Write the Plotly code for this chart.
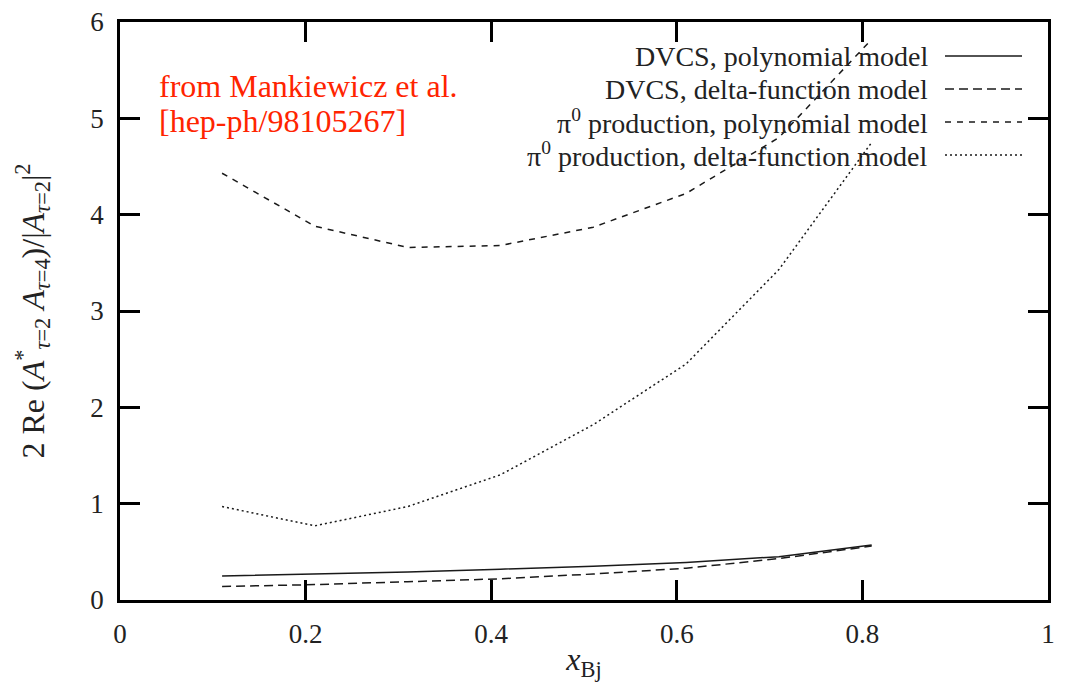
import plotly.graph_objects as go

# ---- data ----
x_bj = [0.11, 0.21, 0.31, 0.41, 0.51, 0.61, 0.71, 0.81]
dvcs_poly = [0.25, 0.27, 0.29, 0.32, 0.35, 0.39, 0.45, 0.57]
dvcs_delta = [0.14, 0.16, 0.19, 0.22, 0.27, 0.33, 0.43, 0.56]
pi0_poly = [4.43, 3.88, 3.66, 3.68, 3.87, 4.22, 4.80, 5.82]
pi0_delta = [0.97, 0.77, 0.97, 1.30, 1.82, 2.45, 3.43, 4.75]

series_names = [
    "DVCS, polynomial model",
    "DVCS, delta-function model",
    "π<sup>0</sup> production, polynomial model",
    "π<sup>0</sup> production, delta-function model",
]
series_values = [dvcs_poly, dvcs_delta, pi0_poly, pi0_delta]
series_dash = ["solid", "9px,5px", "6px,6px", "2px,3px"]

x_ticks = [0, 0.2, 0.4, 0.6, 0.8, 1]
x_ticktext = ["0", "0.2", "0.4", "0.6", "0.8", "1"]
y_ticks = [0, 1, 2, 3, 4, 5, 6]
y_ticktext = ["0", "1", "2", "3", "4", "5", "6"]

FONT = "Liberation Serif"
LINE = "#1a1a1a"

# page body has an 8px margin, so work in page coordinates shifted by 8
OFF = 8
W, H = 1066 - OFF, 684 - OFF
plot_l, plot_r, plot_t, plot_b = 120 - OFF, 1048 - OFF, 22 - OFF, 600 - OFF


def px_x(px):
    return (px - OFF - plot_l) / (plot_r - plot_l)


def px_y(py):
    return (plot_b - (py - OFF)) / (plot_b - plot_t)


fig = go.Figure()
for name, vals, dash in zip(series_names, series_values, series_dash):
    fig.add_trace(go.Scatter(
        x=x_bj, y=vals, mode="lines", name=name, showlegend=False,
        line=dict(color=LINE, width=1.5, dash=dash),
    ))

# manual legend (text right-aligned, sample line to its right, like gnuplot)
row_px = [56, 89, 122, 155]
for name, dash, py in zip(series_names, series_dash, row_px):
    yp = px_y(py)
    fig.add_annotation(
        xref="paper", yref="paper", x=px_x(930), y=yp,
        xanchor="right", yanchor="middle", text=name, showarrow=False,
        font=dict(family=FONT, size=28, color="#222"),
    )
    fig.add_shape(
        type="line", xref="paper", yref="paper",
        x0=px_x(945), x1=px_x(1022), y0=yp, y1=yp,
        line=dict(color=LINE, width=1.5, dash=dash),
    )

# red source note
for txt, py in [("from Mankiewicz et al.", 86), ("[hep-ph/98105267]", 121)]:
    fig.add_annotation(
        xref="paper", yref="paper", x=px_x(157), y=px_y(py),
        xanchor="left", yanchor="middle",
        text=txt, showarrow=False, font=dict(family=FONT, size=32, color="#FF2400"),
    )

axis_common = dict(
    ticks="inside", ticklen=20, tickwidth=2.5, tickcolor="black",
    showline=True, linewidth=2.5, linecolor="black", mirror="ticks",
    showgrid=False, zeroline=False, ticklabeloverflow="allow",
    tickfont=dict(family=FONT, size=27, color="#222"),
)

fig.update_xaxes(
    range=[0, 1], tickvals=x_ticks, ticktext=x_ticktext,
    title=dict(text="<i>x</i><sub>Bj</sub>", font=dict(family=FONT, size=32, color="#222"), standoff=0),
    ticklabelstandoff=8,
    **axis_common,
)
fig.update_yaxes(
    range=[0, 6], tickvals=y_ticks, ticktext=y_ticktext,
    title=dict(
        text="2 Re (<i>A</i><sup>*</sup><sub><i>τ</i>=2</sub> <i>A</i><sub><i>τ</i>=4</sub>)/|<i>A</i><sub><i>τ</i>=2</sub>|<sup>2</sup>",
        font=dict(family=FONT, size=32, color="#222"), standoff=37,
    ),
    ticklabelstandoff=8,
    **axis_common,
)

fig.update_layout(
    width=W, height=H,
    margin=dict(l=plot_l, r=W - plot_r, t=plot_t, b=H - plot_b, autoexpand=False),
    paper_bgcolor="white", plot_bgcolor="white",
    showlegend=False,
)

fig.write_html("out.html")
